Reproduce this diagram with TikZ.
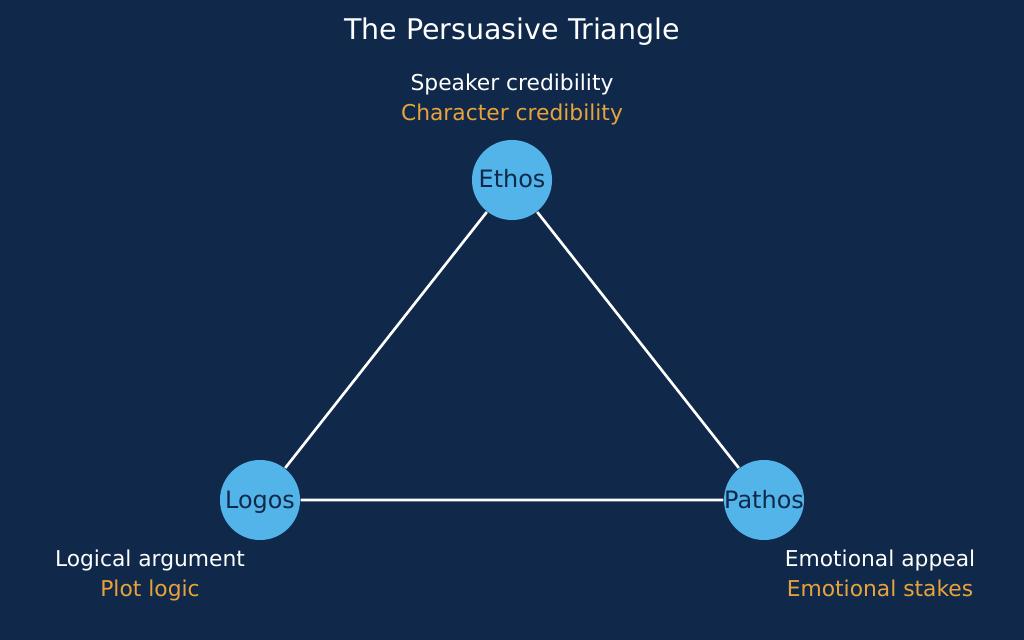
\documentclass[tikz,border=0pt]{standalone}
\usepackage{fontspec}
\setmainfont{DejaVu Sans}
\usetikzlibrary{positioning}
\definecolor{bgblue}{HTML}{10294A}
\definecolor{ballblue}{HTML}{52B4E8}
\definecolor{gold}{HTML}{E8A33C}
\newcommand{\ballname}[1]{\makebox[0pt]{#1}}
\begin{document}
\begin{tikzpicture}[x=0.01cm,y=-0.01cm,
                    corner/.style={circle,fill=ballblue,minimum size=0.8cm,inner sep=0pt,text=bgblue,text height=1.6mm,text depth=0pt,font=\fontsize{6.8}{7}\selectfont},
                    note/.style={text=white,font=\fontsize{6.2}{7}\selectfont,inner sep=0pt,text height=1.6mm,text depth=0pt},
                    story/.style={note,text=gold}
                   ]
   \fill[bgblue] (0,0) rectangle (1024,640);
   \node[text=white,font=\fontsize{8.1}{9}\selectfont] (title) at (512,32) {The Persuasive Triangle};
   \node[corner] (ethos) at (512,180) {\ballname{Ethos}};
   \node[corner] (logos) at (260,500) {\ballname{Logos}};
   \node[corner] (pathos) at (764,500) {\ballname{Pathos}};
   \draw[white,line width=0.75pt]
     (ethos) -- (logos)
     (logos) -- (pathos)
     (pathos) -- (ethos);
   \node[note] (ethos1) at (512,83) {Speaker credibility};
   \node[story] (ethos2) at (512,113) {Character credibility};
   \node[note] (logos1) at (150,558) {Logical argument};
   \node[story] (logos2) at (150,588) {Plot logic};
   \node[note] (pathos1) at (880,558) {Emotional appeal};
   \node[story] (pathos2) at (880,588) {Emotional stakes};
\end{tikzpicture}
\end{document}
